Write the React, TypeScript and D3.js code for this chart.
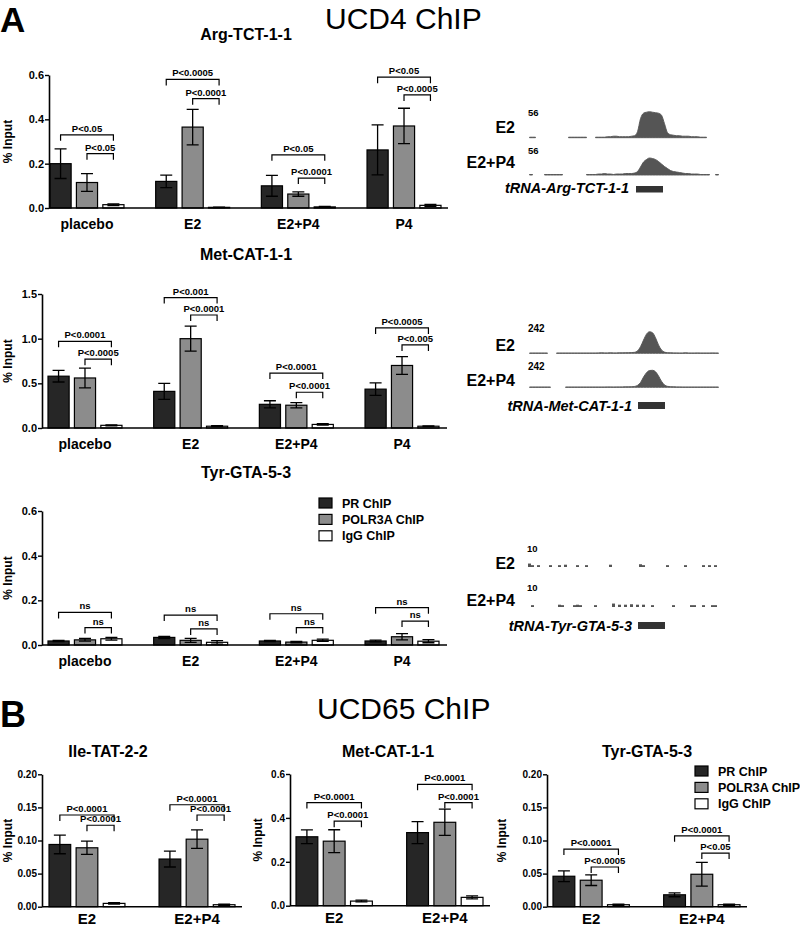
import React, { useEffect, useRef } from 'react';
import * as d3 from 'd3';

const FONT = "'Liberation Sans', Arial, Helvetica, sans-serif";

const seriesNames = ['PR ChIP', 'POLR3A ChIP', 'IgG ChIP'];
const seriesFill = ['#262626', '#8c8c8c', '#ffffff'];

const groupsA = ['placebo', 'E2', 'E2+P4', 'P4'];
const groupsB = ['E2', 'E2+P4'];

// UCD4 ChIP, values per group as [PR, POLR3A, IgG]
const argMean = [[0.2, 0.115, 0.015], [0.12, 0.365, 0.003], [0.1, 0.063, 0.005], [0.262, 0.37, 0.012]];
const argErr = [[0.067, 0.04, 0.004], [0.028, 0.08, 0.001], [0.047, 0.01, 0.002], [0.113, 0.08, 0.004]];
const argBracket = [[0.33, 0.245], [0.58, 0.493], [0.24, 0.135], [0.59, 0.51]];
const argP = [['P<0.05', 'P<0.05'], ['P<0.0005', 'P<0.0001'], ['P<0.05', 'P<0.0001'], ['P<0.05', 'P<0.0005']];

const metMean = [[0.58, 0.56, 0.03], [0.41, 1.0, 0.02], [0.265, 0.255, 0.04], [0.435, 0.7, 0.02]];
const metErr = [[0.065, 0.11, 0.006], [0.09, 0.14, 0.005], [0.04, 0.03, 0.008], [0.07, 0.1, 0.004]];
const metBracket = [[0.97, 0.77], [1.46, 1.265], [0.615, 0.4], [1.12, 0.93]];
const metP = [['P<0.0001', 'P<0.0005'], ['P<0.001', 'P<0.0001'], ['P<0.0001', 'P<0.0001'], ['P<0.0005', 'P<0.005']];

const tyrMean = [[0.018, 0.023, 0.028], [0.034, 0.021, 0.012], [0.018, 0.013, 0.021], [0.018, 0.037, 0.017]];
const tyrErr = [[0.003, 0.006, 0.006], [0.005, 0.009, 0.008], [0.003, 0.003, 0.005], [0.004, 0.014, 0.007]];
const tyrBracket = [[0.146, 0.078], [0.134, 0.072], [0.14, 0.078], [0.167, 0.107]];
const tyrP = [['ns', 'ns'], ['ns', 'ns'], ['ns', 'ns'], ['ns', 'ns']];

// UCD65 ChIP
const ileMean = [[0.094, 0.089, 0.005], [0.072, 0.102, 0.003]];
const ileErr = [[0.014, 0.01, 0.001], [0.012, 0.014, 0.001]];
const ileBracket = [[0.1385, 0.123], [0.154, 0.1385]];
const ileP = [['P<0.0001', 'P<0.0001'], ['P<0.0001', 'P<0.0001']];

const metBMean = [[0.314, 0.294, 0.021], [0.333, 0.38, 0.038]];
const metBErr = [[0.031, 0.052, 0.004], [0.05, 0.06, 0.007]];
const metBBracket = [[0.47, 0.385], [0.553, 0.47]];
const metBP = [['P<0.0001', 'P<0.0001'], ['P<0.0001', 'P<0.0001']];

const tyrBMean = [[0.046, 0.04, 0.003], [0.018, 0.049, 0.003]];
const tyrBErr = [[0.008, 0.008, 0.001], [0.003, 0.018, 0.001]];
const tyrBBracket = [[0.087, 0.06], [0.107, 0.081]];
const tyrBP = [['P<0.0001', 'P<0.0005'], ['P<0.0001', 'P<0.05']];

// genome browser coverage, 64 bins per track (null = no data)
const argE2Cov = [1, 1, 1, null, null, null, null, null, null, null, null, null, null, 1, 1, 1, 1, 1, 1, 1, null, null,
  1, 1, 1, 1, 2, 2, 3, 3, 2, 2, 2, 2, 3, 4,
  12, 38, 49, 51, 52, 51, 50, 49, 45, 28, 10, 6,
  5, 4, 4, 3, 3, 3, 2, 2, 2, 1, 1, 1, null, null, null, null];
const argE2P4Cov = [1, 1, null, null, null, 1, 1, 1, 1, 1, 1, 1, null, null, null, null, null, null, null,
  1, 1, 1, 1, 2, 2, 3, 2, 2, 1, 2, 2, 2, 3, 3, 3, 4,
  7, 16, 26, 31, 34, 33, 31, 27, 22, 17, 13, 9, 7,
  6, 5, 4, 3, 3, 2, 2, 2, 1, 1, 1, 1, null, 1, 1];
const metE2Cov = [2, 2, 2, 2, 2, 2, 2, null, null,
  2, 2, 2, 2, 2, 2, 2, 2, 2, 2, 2, 2, 2, 2, 3, 4, 3, 3, 4, 3, 3, 4,
  4, 5, 5, 6, 8, 20, 55, 110, 160, 180, 172, 130, 70, 28, 10, 5, 4, 3,
  3, 2, 2, 4, 2, 2, 2, 3, 2, 2, 2, 2, 3, 2, 2];
const metE2P4Cov = [2, 2, 2, 2, 2, 2, 2, 2, null, null, null, null,
  2, 2, 2, 2, 2, 2, 2, 2, 2, 2, 2, 2, 2, 2, 3, 3, 2, 3, 3, 3, 4, 4,
  5, 7, 16, 40, 85, 122, 140, 142, 130, 95, 50, 20, 8, 5, 4,
  3, 3, 2, 2, 2, 2, 2, 2, 2, 2, 2, 2, 2, 2, 2];
const tyrE2Bins = [0, 1, 3, 7, 10, 12, 16, 19, 27, 37, 38, 46, 52, 58, 60, 62];
const tyrE2Vals = [1.5, 0.8, 0.8, 0.8, 0.8, 1, 0.8, 0.8, 1, 1.2, 0.8, 0.8, 0.8, 0.8, 0.8, 0.8];
const tyrE2P4Bins = [1, 10, 11, 15, 16, 17, 22, 28, 30, 32, 34, 36, 38, 41, 48, 54, 55, 58, 61, 62];
const tyrE2P4Vals = [0.8, 1, 0.8, 0.8, 1, 0.8, 0.8, 1.5, 1, 1, 1.2, 1, 1, 0.8, 0.8, 0.8, 0.8, 0.8, 0.8, 0.8];

function drawBarChart(svg, c) {
  const g = svg.append('g');
  const y = d3.scaleLinear().domain([0, c.max]).range([c.y0, c.y1]);
  const x = d3.scaleBand().domain(c.groups).range([c.barL, c.barR]).paddingInner(c.groupPad);
  const xs = d3.scaleBand().domain(seriesNames).range([0, x.bandwidth()]).paddingInner(0.2);

  // bars
  c.groups.forEach((grp, i) => {
    seriesNames.forEach((s, j) => {
      const v = c.mean[i][j];
      g.append('rect')
        .attr('x', x(grp) + xs(s))
        .attr('y', y(v))
        .attr('width', xs.bandwidth())
        .attr('height', c.y0 - y(v))
        .attr('fill', seriesFill[j])
        .attr('stroke', '#000')
        .attr('stroke-width', 1.2);
    });
  });

  // error bars
  c.groups.forEach((grp, i) => {
    seriesNames.forEach((s, j) => {
      const cx = x(grp) + xs(s) + xs.bandwidth() / 2;
      const hi = y(c.mean[i][j] + c.err[i][j]);
      const lo = y(Math.max(0, c.mean[i][j] - c.err[i][j]));
      g.append('path')
        .attr('d', `M${cx},${hi}V${lo}M${cx - 6},${hi}H${cx + 6}M${cx - 6},${lo}H${cx + 6}`)
        .attr('stroke', '#000')
        .attr('stroke-width', 1.3)
        .attr('fill', 'none');
    });
  });

  // significance brackets
  c.groups.forEach((grp, i) => {
    const centers = seriesNames.map(s => x(grp) + xs(s) + xs.bandwidth() / 2);
    [[0, 2], [1, 2]].forEach((pair, k) => {
      const yb = y(c.bracket[i][k]);
      const xl = centers[pair[0]];
      const xr = centers[pair[1]];
      g.append('path')
        .attr('d', `M${xl},${yb + 6}V${yb}H${xr}V${yb + 6}`)
        .attr('stroke', '#000')
        .attr('stroke-width', 1.2)
        .attr('fill', 'none');
      g.append('text')
        .attr('x', (xl + xr) / 2)
        .attr('y', yb - 3)
        .attr('text-anchor', 'middle')
        .attr('font-family', FONT)
        .attr('font-weight', 'bold')
        .attr('font-size', 9.5)
        .text(c.p[i][k]);
    });
  });

  // axes
  const ax = g.append('g')
    .attr('transform', `translate(${c.axisX},0)`)
    .call(d3.axisLeft(y).tickValues(c.ticks).tickFormat(d3.format(c.fmt)).tickSize(4).tickSizeOuter(0));
  ax.attr('font-family', FONT).attr('font-size', c.tickSize).attr('font-weight', 'bold');
  ax.select('.domain').attr('stroke-width', 1.6);
  ax.selectAll('.tick line').attr('stroke-width', 1.4);
  ax.selectAll('.tick text').attr('fill', '#000').attr('x', -5);

  g.append('line')
    .attr('x1', c.axisX).attr('x2', c.axisEnd)
    .attr('y1', c.y0).attr('y2', c.y0)
    .attr('stroke', '#000').attr('stroke-width', 1.6);

  // category labels
  c.groups.forEach(grp => {
    g.append('text')
      .attr('x', x(grp) + x.bandwidth() / 2)
      .attr('y', c.y0 + c.catDy)
      .attr('text-anchor', 'middle')
      .attr('font-family', FONT)
      .attr('font-weight', 'bold')
      .attr('font-size', c.catSize)
      .text(grp);
  });

  g.append('text')
    .attr('x', c.titleX).attr('y', c.titleY)
    .attr('text-anchor', 'middle')
    .attr('font-family', FONT).attr('font-weight', 'bold').attr('font-size', 16)
    .text(c.title);

  g.append('text')
    .attr('transform', `translate(${c.ylabX},${(c.y0 + c.y1) / 2}) rotate(-90)`)
    .attr('dy', '0.35em')
    .attr('text-anchor', 'middle')
    .attr('font-family', FONT).attr('font-weight', 'bold').attr('font-size', 12)
    .text('% Input');
}

function drawLegend(svg, lx, ly) {
  seriesNames.forEach((s, j) => {
    const yy = ly + j * 16.4;
    svg.append('rect')
      .attr('x', lx).attr('y', yy - 5)
      .attr('width', 13).attr('height', 10)
      .attr('fill', seriesFill[j]).attr('stroke', '#000').attr('stroke-width', 1.2);
    svg.append('text')
      .attr('x', lx + 23).attr('y', yy + 4.5)
      .attr('font-family', FONT).attr('font-weight', 'bold').attr('font-size', 12.5)
      .text(s);
  });
}

const gx = d3.scaleLinear().domain([0, 64]).range([528, 720]);

function drawCoverage(svg, cov, max, h, base) {
  const hy = d3.scaleLinear().domain([0, max]).range([0, h]);
  const area = d3.area()
    .defined(d => d != null)
    .x((d, i) => gx(i + 0.5))
    .y0(base)
    .y1(d => base - hy(d))
    .curve(d3.curveMonotoneX);
  svg.append('path')
    .attr('d', area(cov))
    .attr('fill', '#555')
    .attr('stroke', '#555')
    .attr('stroke-width', 0.9);
}

function drawDots(svg, bins, vals, max, h, base) {
  const hy = d3.scaleLinear().domain([0, max]).range([0, h]);
  bins.forEach((b, i) => {
    const hh = Math.max(1.6, hy(vals[i]));
    svg.append('rect')
      .attr('x', gx(b)).attr('y', base - hh)
      .attr('width', gx(1) - gx(0)).attr('height', hh)
      .attr('fill', '#555');
  });
}

function trackText(svg, x, y, text, size, anchor, style) {
  svg.append('text')
    .attr('x', x).attr('y', y)
    .attr('text-anchor', anchor)
    .attr('font-family', FONT).attr('font-weight', 'bold').attr('font-size', size)
    .attr('font-style', style || 'normal')
    .text(text);
}

function App() {
  const svgRef = useRef(null);

  useEffect(() => {
    const svg = d3.select(svgRef.current);
    svg.selectAll('*').remove();

    // panel headings
    svg.append('text').attr('x', 0).attr('y', 32).attr('font-family', FONT).attr('font-weight', 'bold').attr('font-size', 35).text('A');
    svg.append('text').attr('x', 325).attr('y', 29).attr('font-family', FONT).attr('font-size', 30).text('UCD4 ChIP');
    svg.append('text').attr('x', 0).attr('y', 727).attr('font-family', FONT).attr('font-weight', 'bold').attr('font-size', 36).text('B');
    svg.append('text').attr('x', 317).attr('y', 719).attr('font-family', FONT).attr('font-size', 30).text('UCD65 ChIP');

    const baseA = { groups: groupsA, groupPad: 0.3, catSize: 14, catDy: 21, tickSize: 11, ylabX: 8, titleX: 246 };
    drawBarChart(svg, { ...baseA, mean: argMean, err: argErr, bracket: argBracket, p: argP,
      max: 0.6, ticks: [0, 0.2, 0.4, 0.6], fmt: '.1f', y0: 208, y1: 75,
      axisX: 49, axisEnd: 448, barL: 50, barR: 441, title: 'Arg-TCT-1-1', titleY: 40 });
    drawBarChart(svg, { ...baseA, mean: metMean, err: metErr, bracket: metBracket, p: metP,
      max: 1.5, ticks: [0, 0.5, 1.0, 1.5], fmt: '.1f', y0: 428, y1: 294,
      axisX: 42, axisEnd: 447, barL: 48, barR: 439, title: 'Met-CAT-1-1', titleY: 260 });
    drawBarChart(svg, { ...baseA, mean: tyrMean, err: tyrErr, bracket: tyrBracket, p: tyrP,
      max: 0.6, ticks: [0, 0.2, 0.4, 0.6], fmt: '.1f', y0: 645, y1: 511,
      axisX: 42, axisEnd: 447, barL: 48, barR: 439, title: 'Tyr-GTA-5-3', titleY: 478 });
    drawLegend(svg, 319, 503);

    const baseB = { groups: groupsB, groupPad: 0.31, catSize: 15, catDy: 17, tickSize: 10, titleY: 757 };
    drawBarChart(svg, { ...baseB, mean: ileMean, err: ileErr, bracket: ileBracket, p: ileP,
      max: 0.2, ticks: [0, 0.05, 0.1, 0.15, 0.2], fmt: '.2f', y0: 906.7, y1: 774.3,
      axisX: 42, axisEnd: 242, barL: 49, barR: 235, title: 'Ile-TAT-2-2', titleX: 108, ylabX: 8 });
    drawBarChart(svg, { ...baseB, mean: metBMean, err: metBErr, bracket: metBBracket, p: metBP,
      max: 0.6, ticks: [0, 0.2, 0.4, 0.6], fmt: '.1f', y0: 905.7, y1: 774,
      axisX: 290, axisEnd: 490, barL: 296, barR: 483, title: 'Met-CAT-1-1', titleX: 388, ylabX: 258 });
    drawBarChart(svg, { ...baseB, mean: tyrBMean, err: tyrBErr, bracket: tyrBBracket, p: tyrBP,
      max: 0.2, ticks: [0, 0.05, 0.1, 0.15, 0.2], fmt: '.2f', y0: 906.7, y1: 774.3,
      axisX: 547, axisEnd: 747, barL: 553, barR: 740, title: 'Tyr-GTA-5-3', titleX: 647, ylabX: 502 });
    drawLegend(svg, 695, 771);

    // genome browser tracks
    trackText(svg, 515, 133, 'E2', 16, 'end');
    trackText(svg, 528, 115.5, '56', 9.5, 'start');
    drawCoverage(svg, argE2Cov, 56, 28, 137.7);
    trackText(svg, 515, 168, 'E2+P4', 16, 'end');
    trackText(svg, 528, 153.5, '56', 9.5, 'start');
    drawCoverage(svg, argE2P4Cov, 56, 28, 175);
    trackText(svg, 629, 193, 'tRNA-Arg-TCT-1-1', 14.5, 'end', 'italic');
    svg.append('rect').attr('x', 636).attr('y', 186).attr('width', 27).attr('height', 6.5).attr('fill', '#333');

    trackText(svg, 515, 351, 'E2', 16, 'end');
    trackText(svg, 528, 332, '242', 10, 'start');
    drawCoverage(svg, metE2Cov, 242, 29, 353.3);
    trackText(svg, 515, 386, 'E2+P4', 16, 'end');
    trackText(svg, 528, 370, '242', 10, 'start');
    drawCoverage(svg, metE2P4Cov, 242, 29, 387.3);
    trackText(svg, 632, 411, 'tRNA-Met-CAT-1-1', 14.5, 'end', 'italic');
    svg.append('rect').attr('x', 638).attr('y', 402).attr('width', 27).attr('height', 7).attr('fill', '#333');

    trackText(svg, 515, 569, 'E2', 16, 'end');
    trackText(svg, 527, 551.5, '10', 9.5, 'start');
    drawDots(svg, tyrE2Bins, tyrE2Vals, 10, 23, 567);
    trackText(svg, 515, 606, 'E2+P4', 16, 'end');
    trackText(svg, 527, 590.5, '10', 9.5, 'start');
    drawDots(svg, tyrE2P4Bins, tyrE2P4Vals, 10, 23, 607);
    trackText(svg, 632, 631, 'tRNA-Tyr-GTA-5-3', 14.5, 'end', 'italic');
    svg.append('rect').attr('x', 638).attr('y', 622).attr('width', 27).attr('height', 7).attr('fill', '#333');
  }, []);

  return (
    <svg
      ref={svgRef}
      width={800}
      height={928}
      style={{ position: 'absolute', left: 0, top: 0, background: '#fff' }}
    ></svg>
  );
}

export default App;
